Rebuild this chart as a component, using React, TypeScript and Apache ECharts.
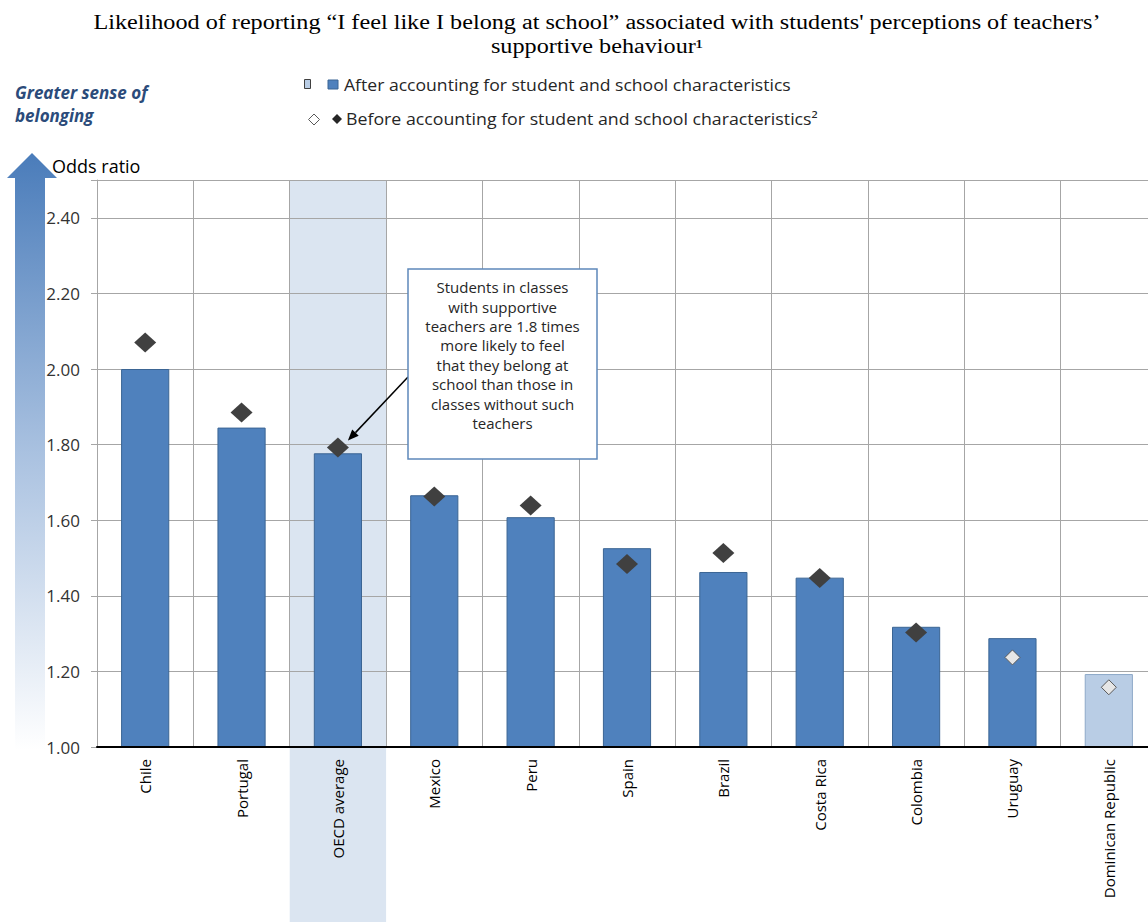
import React, { useEffect, useRef } from "react";
import * as echarts from "echarts";

const categories = [
  "Chile",
  "Portugal",
  "OECD average",
  "Mexico",
  "Peru",
  "Spain",
  "Brazil",
  "Costa Rica",
  "Colombia",
  "Uruguay",
  "Dominican Republic",
];
// Odds ratio after accounting for student and school characteristics (bars)
const afterValues = [2.0, 1.845, 1.777, 1.666, 1.608, 1.526, 1.463, 1.448, 1.318, 1.288, 1.193];
// Odds ratio before accounting for student and school characteristics (diamonds)
const beforeValues = [2.07, 1.885, 1.792, 1.663, 1.639, 1.484, 1.513, 1.447, 1.303, 1.237, 1.158];
// statistically significant flags (dark = significant, light = not significant)
const afterSignificant = [true, true, true, true, true, true, true, true, true, true, false];
const beforeSignificant = [true, true, true, true, true, true, true, true, true, false, false];

const yMin = 1.0;
const yMax = 2.5;
const yInterval = 0.2;

const titleLine1 =
  "Likelihood of reporting \u201cI feel like I belong at school\u201d associated with students' perceptions of teachers\u2019";
const titleLine2 = "supportive behaviour\u00b9";
const legendAfter = "After accounting for student and school characteristics";
const legendBefore = "Before accounting for student and school characteristics\u00b2";
const annotationText =
  "Students in classes\nwith supportive\nteachers are 1.8 times\nmore likely to feel\nthat they belong at\nschool than those in\nclasses without such\nteachers";
const yAxisTitle = "Odds ratio";
const sideNote = "Greater sense of\nbelonging";

const FONT = "'Open Sans', 'Noto Sans', sans-serif";
const BLUE = "#4F81BD";
const BLUE_BORDER = "#3B6594";
const LIGHT_BLUE = "#B9CDE5";
const LIGHT_BORDER = "#8EA9C8";
const DIAMOND = "#404040";

function buildGraphics(chart: any) {
  const H = 922;
  const xPrev = chart.convertToPixel({ xAxisIndex: 0 }, categories[1]);
  const xNext = chart.convertToPixel({ xAxisIndex: 0 }, categories[3]);
  const xOecd = chart.convertToPixel({ xAxisIndex: 0 }, categories[2]);
  const catW = (xNext - xPrev) / 2;
  const yTop = chart.convertToPixel({ yAxisIndex: 0 }, yMax);
  const yBottom = chart.convertToPixel({ yAxisIndex: 0 }, yMin);
  const yOecdBefore = chart.convertToPixel({ yAxisIndex: 0 }, beforeValues[2]);

  // annotation box
  const boxX = 408;
  const boxY = 269;
  const boxW = 189;
  const boxH = 190;
  const arrowStart = [boxX, 377];
  const tip = [xOecd + 10, yOecdBefore - 7];
  const dx = tip[0] - arrowStart[0];
  const dy = tip[1] - arrowStart[1];
  const len = Math.sqrt(dx * dx + dy * dy);
  const ux = dx / len;
  const uy = dy / len;
  const hl = 11;
  const hw = 4.5;
  const bx = tip[0] - ux * hl;
  const by = tip[1] - uy * hl;

  const titleFont = "20px 'Liberation Serif', 'Times New Roman', serif";

  return [
    // shaded OECD average column
    {
      type: "rect",
      z: -1,
      silent: true,
      shape: { x: xOecd - catW / 2, y: yTop, width: catW, height: H - yTop },
      style: { fill: "#DBE5F1" },
    },
    // title
    {
      type: "text",
      x: 597,
      y: 22,
      scaleX: 1.21,
      style: {
        text: titleLine1,
        font: titleFont,
        fill: "#000",
        textAlign: "center",
        textVerticalAlign: "middle",
      },
    },
    {
      type: "text",
      x: 597,
      y: 46,
      scaleX: 1.21,
      style: {
        text: titleLine2,
        font: titleFont,
        fill: "#000",
        textAlign: "center",
        textVerticalAlign: "middle",
      },
    },
    // side note
    {
      type: "text",
      x: 15,
      y: 81,
      style: {
        text: sideNote,
        font: "italic bold 17px " + FONT,
        fill: "#2B4B7A",
        lineHeight: 23,
        textAlign: "left",
        textVerticalAlign: "top",
      },
    },
    // gradient arrow
    {
      type: "polygon",
      z: 1,
      shape: {
        points: [
          [32, 153],
          [57, 178],
          [45, 178],
          [45, yBottom + 3],
          [15, yBottom + 3],
          [15, 178],
          [7, 178],
        ],
      },
      style: {
        fill: new echarts.graphic.LinearGradient(0, 0, 0, 1, [
          { offset: 0, color: "#4A7CBA" },
          { offset: 0.5, color: "#A9C1E0" },
          { offset: 1, color: "#FFFFFF" },
        ]),
      },
    },
    // y-axis title
    {
      type: "text",
      x: 52,
      y: 166,
      style: {
        text: yAxisTitle,
        font: "18px " + FONT,
        fill: "#000",
        textAlign: "left",
        textVerticalAlign: "middle",
      },
    },
    // legend
    {
      type: "rect",
      shape: { x: 304.5, y: 79.5, width: 6, height: 9 },
      style: { fill: LIGHT_BLUE, stroke: "#404040", lineWidth: 1 },
    },
    {
      type: "rect",
      shape: { x: 328, y: 80, width: 10, height: 9 },
      style: { fill: BLUE, stroke: BLUE_BORDER, lineWidth: 1 },
    },
    {
      type: "text",
      x: 344,
      y: 85,
      scaleX: 1.1,
      style: {
        text: legendAfter,
        font: "16px " + FONT,
        fill: "#262626",
        textAlign: "left",
        textVerticalAlign: "middle",
      },
    },
    {
      type: "polygon",
      shape: { points: [[314, 114], [319.5, 119.5], [314, 125], [308.5, 119.5]] },
      style: { fill: "#FFFFFF", stroke: "#595959", lineWidth: 1 },
    },
    {
      type: "polygon",
      shape: { points: [[337, 114], [342, 119], [337, 124], [332, 119]] },
      style: { fill: "#262626" },
    },
    {
      type: "text",
      x: 346,
      y: 119,
      scaleX: 1.11,
      style: {
        text: legendBefore,
        font: "16px " + FONT,
        fill: "#262626",
        textAlign: "left",
        textVerticalAlign: "middle",
      },
    },
    // annotation
    {
      type: "line",
      z: 50,
      shape: { x1: arrowStart[0], y1: arrowStart[1], x2: bx, y2: by },
      style: { stroke: "#000", lineWidth: 1.5 },
    },
    {
      type: "polygon",
      z: 50,
      shape: {
        points: [
          [tip[0], tip[1]],
          [bx + uy * hw, by - ux * hw],
          [bx - uy * hw, by + ux * hw],
        ],
      },
      style: { fill: "#000" },
    },
    {
      type: "rect",
      z: 50,
      shape: { x: boxX, y: boxY, width: boxW, height: boxH },
      style: { fill: "#FFFFFF", stroke: "#5E88BA", lineWidth: 1.5 },
    },
    {
      type: "text",
      z: 51,
      x: boxX + boxW / 2,
      y: 355,
      style: {
        text: annotationText,
        font: "15px " + FONT,
        fill: "#262626",
        lineHeight: 19.4,
        textAlign: "center",
        textVerticalAlign: "middle",
      },
    },
  ];
}

export default function App() {
  const ref = useRef<HTMLDivElement>(null);

  useEffect(() => {
    document.body.style.margin = "0";
    const el = ref.current;
    if (!el) return;
    const chart = echarts.init(el, null, { renderer: "svg" });

    const barData = afterValues.map((v, i) =>
      afterSignificant[i]
        ? { value: v }
        : { value: v, itemStyle: { color: LIGHT_BLUE, borderColor: LIGHT_BORDER } }
    );
    const diamondData = beforeValues.map((v, i) =>
      beforeSignificant[i]
        ? { value: v }
        : {
            value: v,
            symbolSize: [15, 15],
            itemStyle: { color: "#E6E6E6", borderColor: "#595959", borderWidth: 1 },
          }
    );

    const option: any = {
      animation: false,
      backgroundColor: "#FFFFFF",
      grid: {
        left: 97,
        top: 180,
        width: 1060,
        height: 567,
        containLabel: false,
        outerBoundsMode: "none",
      },
      xAxis: {
        type: "category",
        data: categories,
        boundaryGap: true,
        axisLine: { show: true, lineStyle: { color: "#000", width: 2 } },
        axisTick: { show: false },
        splitLine: { show: true, lineStyle: { color: "#A6A6A6", width: 1 } },
        axisLabel: {
          rotate: 90,
          interval: 0,
          margin: 12,
          fontFamily: FONT,
          fontSize: 15,
          color: "#000",
        },
        z: 3,
      },
      yAxis: {
        type: "value",
        min: yMin,
        max: yMax,
        interval: yInterval,
        axisLine: { show: true, lineStyle: { color: "#A6A6A6", width: 1 } },
        axisTick: { show: true, length: 6, lineStyle: { color: "#A6A6A6" } },
        splitLine: { show: true, lineStyle: { color: "#A6A6A6", width: 1 } },
        axisLabel: {
          margin: 17,
          fontFamily: FONT,
          fontSize: 17,
          color: "#333",
          formatter: (v: number) => (v > yMax - 0.05 ? "" : v.toFixed(2)),
        },
      },
      series: [
        {
          name: legendAfter,
          type: "bar",
          data: barData,
          barWidth: "50%",
          itemStyle: { color: BLUE, borderColor: BLUE_BORDER, borderWidth: 1 },
          z: 2,
        },
        {
          name: legendBefore,
          type: "scatter",
          data: diamondData,
          symbol: "diamond",
          symbolSize: [22, 20],
          itemStyle: { color: DIAMOND, opacity: 1 },
          z: 4,
        },
      ],
    };

    chart.setOption(option);
    chart.setOption({ graphic: { elements: buildGraphics(chart) } });

    return () => {
      chart.dispose();
    };
  }, []);

  return <div ref={ref} style={{ width: 1148, height: 922 }} />;
}
